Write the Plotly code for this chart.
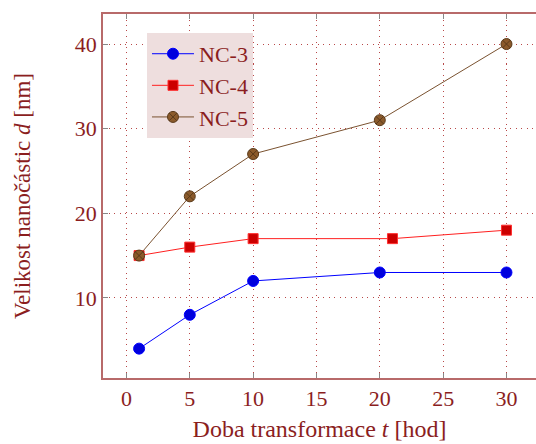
import plotly.graph_objects as go

t_nc3 = [1, 5, 10, 20, 30]
d_nc3 = [4, 8, 12, 13, 13]
t_nc4 = [1, 5, 10, 21, 30]
d_nc4 = [15, 16, 17, 17, 18]
t_nc5 = [1, 5, 10, 20, 30]
d_nc5 = [15, 22, 27, 31, 40]
x_ticks = [0, 5, 10, 15, 20, 25, 30]
y_ticks = [10, 20, 30, 40]

DARKRED = "#8B1E1E"
AXIS = "#B86A6A"
GRID = "#B84848"
FONT = "Liberation Serif"

fig = go.Figure()
fig.add_trace(go.Scatter(x=t_nc3, y=d_nc3, name="NC-3", mode="lines+markers",
                         line=dict(color="#0000FF", width=1),
                         marker=dict(symbol="circle", size=11, color="#0000DD",
                                     line=dict(color="#0000FF", width=1))))
fig.add_trace(go.Scatter(x=t_nc4, y=d_nc4, name="NC-4", mode="lines+markers",
                         line=dict(color="#FF2020", width=1),
                         marker=dict(symbol="square", size=10, color="#CC0000",
                                     line=dict(color="#FF3030", width=1))))
fig.add_trace(go.Scatter(x=t_nc5, y=d_nc5, name="NC-5", mode="lines+markers",
                         line=dict(color="#7A5230", width=1),
                         marker=dict(symbol="circle-x", size=11, color="#8B5A2B",
                                     line=dict(color="#5A3A1A", width=1))))

# invisible trace for top axis
fig.add_trace(go.Scatter(x=[x_ticks[0]], y=[y_ticks[0]], xaxis="x2", mode="markers",
                         marker=dict(opacity=0), showlegend=False, hoverinfo="skip"))

xr = [-1.85, 32.33]
fig.update_layout(
    width=536, height=444,
    margin=dict(l=103, r=0, t=14, b=66),
    plot_bgcolor="white", paper_bgcolor="white",
    font=dict(family=FONT, color=DARKRED, size=22),
    showlegend=True,
    legend=dict(x=0.1016, y=0.948, xanchor="left", yanchor="top",
                bgcolor="#EEDEDE", borderwidth=0,
                font=dict(family=FONT, size=22, color=DARKRED),
                tracegroupgap=0, itemwidth=42),
    xaxis=dict(range=xr, tickvals=x_ticks, ticks="inside", ticklen=5,
               tickcolor="#888888", showline=True, linecolor=AXIS, linewidth=1.5,
               showgrid=True, gridcolor=GRID, griddash="1px,4.5px", gridwidth=1,
               zeroline=False, tickfont=dict(size=22, color=DARKRED), automargin=False,
               title=dict(text="Doba transformace <i>t</i> [hod]",
                          font=dict(size=24, color=DARKRED), standoff=10)),
    xaxis2=dict(range=xr, overlaying="x", side="top", tickvals=x_ticks,
                ticks="inside", ticklen=5, tickcolor="#888888", showticklabels=False,
                showline=True, linecolor=AXIS, linewidth=1.5, showgrid=False,
                zeroline=False, automargin=False),
    yaxis=dict(range=[0.53, 43.55], tickvals=y_ticks, ticks="inside", ticklen=5,
               tickcolor="#888888", showline=True, linecolor=AXIS, linewidth=1.5,
               showgrid=True, gridcolor=GRID, griddash="1px,4.5px", gridwidth=1,
               zeroline=False, tickfont=dict(size=22, color=DARKRED), automargin=False,
               title=dict(text="Velikost nanočástic <i>d</i> [nm]",
                          font=dict(size=23, color=DARKRED), standoff=38)),
)

fig.write_html("out.html", config={"displayModeBar": False},
               post_script="document.body.style.margin='0px';document.body.style.overflow='hidden';")
